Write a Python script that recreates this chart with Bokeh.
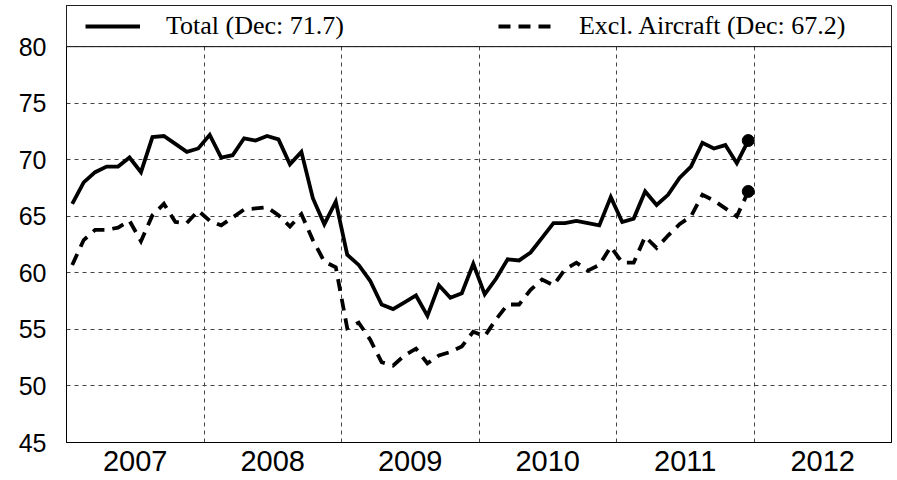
from bokeh.plotting import figure
from bokeh.models import (FixedTicker, Legend, LegendItem, BoxAnnotation,
                          ColumnDataSource, Range1d)
from bokeh.embed import file_html
from bokeh.resources import INLINE

# ---- data (monthly, Jan 2007 .. Dec 2011) ----
years = [2007, 2008, 2009, 2010, 2011]
total = [
    66.1, 68.0, 68.9, 69.4, 69.4, 70.2, 68.9, 72.0, 72.1, 71.4, 70.7, 71.0,  # 2007
    72.2, 70.2, 70.4, 71.9, 71.7, 72.1, 71.8, 69.6, 70.7, 66.6, 64.3, 66.3,  # 2008
    61.6, 60.7, 59.3, 57.2, 56.8, 57.4, 58.0, 56.2, 58.9, 57.8, 58.2, 60.8,  # 2009
    58.1, 59.5, 61.2, 61.1, 61.8, 63.1, 64.4, 64.4, 64.6, 64.4, 64.2, 66.7,  # 2010
    64.5, 64.8, 67.2, 66.0, 66.9, 68.4, 69.4, 71.5, 71.0, 71.3, 69.7, 71.7,  # 2011
]
excl = [
    60.7, 62.9, 63.8, 63.8, 64.0, 64.6, 62.8, 65.1, 66.1, 64.5, 64.4, 65.5,  # 2007
    64.6, 64.2, 64.9, 65.6, 65.7, 65.8, 65.1, 64.1, 65.2, 62.9, 61.0, 60.5,  # 2008
    55.1, 55.6, 54.1, 52.1, 51.8, 52.7, 53.3, 52.0, 52.7, 53.0, 53.5, 54.8,  # 2009
    54.4, 55.9, 57.2, 57.2, 58.5, 59.4, 58.9, 60.3, 60.9, 60.2, 60.7, 62.3,  # 2010
    60.9, 60.9, 63.2, 62.2, 63.3, 64.3, 65.0, 66.9, 66.4, 65.7, 65.0, 67.2,  # 2011
]
year_labels = ["2007", "2008", "2009", "2010", "2011", "2012"]
y_ticks = [45, 50, 55, 60, 65, 70, 75, 80]
legend_labels = ["Total (Dec: 71.7)", "Excl. Aircraft (Dec: 67.2)"]

# month midpoints in fractional years
x = [y + (m + 0.5) / 12 for y in years for m in range(12)]
src = ColumnDataSource(dict(x=x, total=total, excl=excl))

first_year = int(year_labels[0])
last_year = int(year_labels[-1]) + 1

p = figure(width=897, height=480, output_backend="svg", toolbar_location=None,
           x_range=Range1d(first_year, last_year), y_range=Range1d(45, 83.64),
           min_border_left=66, min_border_right=6, min_border_top=5,
           min_border_bottom=38)

p.background_fill_color = "white"
p.border_fill_color = "white"
p.outline_line_color = "black"
p.outline_line_width = 1

# grids
p.xgrid.ticker = FixedTicker(ticks=[int(y) for y in year_labels[1:]])
p.ygrid.ticker = FixedTicker(ticks=y_ticks)
for g in (p.xgrid, p.ygrid):
    g.grid_line_color = "#444444"
    g.grid_line_dash = "4 4"
    g.grid_line_width = 1

# axes
p.xaxis.ticker = FixedTicker(ticks=[int(y) + 0.5 for y in year_labels])
p.xaxis.major_label_overrides = {int(y) + 0.5: y for y in year_labels}
p.yaxis.ticker = FixedTicker(ticks=y_ticks)
for ax in (p.xaxis, p.yaxis):
    ax.axis_line_color = "black"
    ax.major_tick_in = 0
    ax.major_tick_out = 0
    ax.minor_tick_line_color = None
    ax.major_label_text_font = "Liberation Sans"
    ax.major_label_text_color = "black"
p.xaxis.major_label_text_font_size = "29px"
p.xaxis.major_label_standoff = 8
p.yaxis.major_label_text_font_size = "25px"
p.yaxis.major_label_standoff = 20

# lines
r1 = p.line("x", "total", source=src, line_color="black", line_width=3.8,
            line_join="miter")
r2 = p.line("x", "excl", source=src, line_color="black", line_width=3.8,
            line_dash="12 8", line_join="miter")
p.scatter([x[-1]], [total[-1]], size=12, color="black")
p.scatter([x[-1]], [excl[-1]], size=12, color="black")

# legend band (covers grid above the top tick)
band = BoxAnnotation(bottom=y_ticks[-1], fill_color="white", fill_alpha=1.0,
                     line_color="black", line_width=1, line_alpha=1.0)
p.add_layout(band)

legend = Legend(items=[LegendItem(label=legend_labels[0], renderers=[r1]),
                       LegendItem(label=legend_labels[1], renderers=[r2])],
                orientation="horizontal", location=(19, 401),
                glyph_width=55, glyph_height=20, label_standoff=26,
                spacing=154, padding=0, margin=0,
                border_line_color=None, background_fill_alpha=0,
                label_text_font="Liberation Serif",
                label_text_font_size="26px", label_text_color="black")
p.add_layout(legend)

open("out.html", "w").write(file_html(p, INLINE))
